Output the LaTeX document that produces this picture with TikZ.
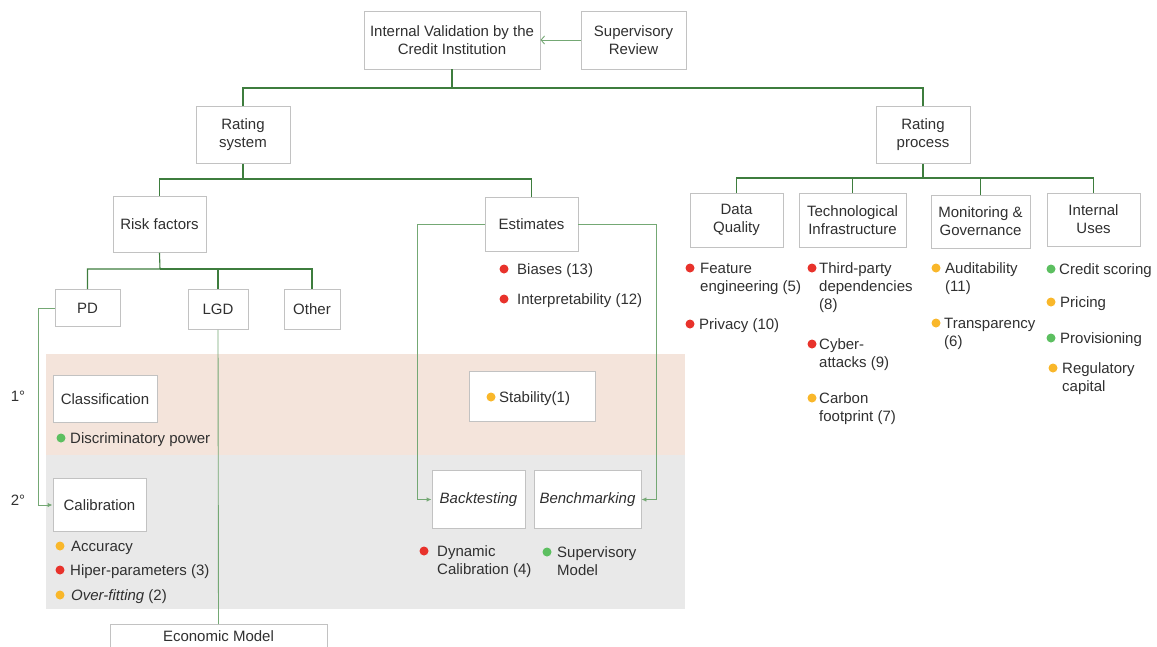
\documentclass[tikz,border=0pt]{standalone}
\usepackage{fontspec}
\setmainfont{Liberation Sans}
\usepackage{xcolor}
\usetikzlibrary{arrows.meta}
\definecolor{txt}{HTML}{303030}
\definecolor{frame}{HTML}{C2C2C2}
\definecolor{treeG}{HTML}{3E7D3E}
\definecolor{flowG}{HTML}{74A874}
\definecolor{bandR}{HTML}{F4E4DB}
\definecolor{bandG}{HTML}{E9E9E9}
\definecolor{dotR}{HTML}{E8322B}
\definecolor{dotO}{HTML}{F9B72A}
\definecolor{dotG}{HTML}{5CBF60}
\newcommand{\fs}{\fontsize{15}{18}\selectfont}
\tikzset{
  box/.style   ={draw=frame, fill=white, line width=0.9pt, align=center, text=txt, font=\fs, inner sep=0pt},
  treeln/.style={treeG, line width=1.1pt},
  flow/.style  ={flowG, line width=0.9pt},
  lnk/.style   ={flow, -{Latex[length=5pt, width=4.5pt]}},
  back/.style  ={flow, -{Straight Barb[length=3.5pt, width=8pt]}},
  bul/.style   ={circle, inner sep=0pt, minimum size=9pt},
  itm/.style   ={anchor=north west, align=left, inner sep=0pt, text=txt, font=\fs},
  lvl/.style   ={text=txt, font=\fs},
}

\begin{document}
\begin{tikzpicture}[x=1pt, y=-1pt]
  \clip (0,0) rectangle (1157,646);
  % validation bands
  \fill[bandR] (46,354) rectangle (685,455);
  \fill[bandG] (46,455) rectangle (685,609);
  \node[lvl] (l1) at (18,396) {1°};
  \node[lvl] (l2) at (18,500) {2°};

  % top level
  \node[box, minimum width=176, minimum height=58] (iv) at (452,40) {Internal Validation by the\\Credit Institution};
  \node[box, minimum width=105, minimum height=58] (sr) at (633.5,40) {Supervisory\\Review};
  \draw[back] (sr.west) -- (iv.east);
  \node[box, minimum width=94, minimum height=57] (rs) at (243,135) {Rating\\system};
  \node[box, minimum width=94, minimum height=57] (rp) at (923,135) {Rating\\process};
  \coordinate (j0) at (452,88);
  \draw[treeln] (iv.south) -- (j0) -| (rs.north);
  \draw[treeln] (j0) -| (rp.north);

  % rating system
  \node[box, minimum width=93, minimum height=56] (rf) at (159.5,224.5) {Risk factors};
  \node[box, minimum width=93, minimum height=54] (est) at (531.5,224.5) {Estimates};
  \coordinate (j1) at (243,179);
  \draw[treeln] (rs.south) -- (j1) -| (rf.north);
  \draw[treeln] (j1) -| (est.north);
  \node[box, minimum width=65, minimum height=37] (pd) at (87.5,308) {PD};
  \node[box, minimum width=60, minimum height=40] (lgd) at (218,309.5) {LGD};
  \node[box, minimum width=56, minimum height=40] (oth) at (312,309.5) {Other};
  \coordinate (j2) at (160,269);
  \draw[treeln] (rf.south) -- (j2) -| (pd.north);
  \draw[treeln] (j2) -| (lgd.north);
  \draw[treeln] (j2) -| (oth.north);
  \node[bul, fill=dotR] (b1) at (504,269) {};
  \node[itm] (t1) at (517,262) {\strut Biases (13)};
  \node[bul, fill=dotR] (b2) at (504,299) {};
  \node[itm] (t2) at (517,292) {\strut Interpretability (12)};

  % rating process
  \node[box, minimum width=93, minimum height=54] (dq) at (736.5,220) {Data\\Quality};
  \node[box, minimum width=107, minimum height=54] (ti) at (852.5,220) {Technological\\Infrastructure};
  \node[box, minimum width=99, minimum height=53] (mg) at (980.5,221.5) {Monitoring \&\\Governance};
  \node[box, minimum width=93, minimum height=53] (iu) at (1093.5,219.5) {Internal\\Uses};
  \coordinate (j3) at (923,178);
  \draw[treeln] (rp.south) -- (j3) -| (dq.north);
  \draw[treeln] (j3) -| (ti.north);
  \draw[treeln] (j3) -| (mg.north);
  \draw[treeln] (j3) -| (iu.north);
  \node[bul, fill=dotR] (b3) at (690,268) {};
  \node[itm] (t3) at (700,261) {\strut Feature\\engineering (5)};
  \node[bul, fill=dotR] (b4) at (690,324) {};
  \node[itm] (t4) at (699,317) {\strut Privacy (10)};
  \node[bul, fill=dotR] (b5) at (812,268) {};
  \node[itm] (t5) at (819,261) {\strut Third-party\\dependencies\\(8)};
  \node[bul, fill=dotR] (b6) at (812,344) {};
  \node[itm] (t6) at (819,337) {\strut Cyber-\\attacks (9)};
  \node[bul, fill=dotO] (b7) at (812,398) {};
  \node[itm] (t7) at (819,391) {\strut Carbon\\footprint (7)};
  \node[bul, fill=dotO] (b8) at (936,268) {};
  \node[itm] (t8) at (945,261) {\strut Auditability\\(11)};
  \node[bul, fill=dotO] (b9) at (936,323) {};
  \node[itm] (t9) at (944,316) {\strut Transparency\\(6)};
  \node[bul, fill=dotG] (b10) at (1051,269) {};
  \node[itm] (t10) at (1059,262) {\strut Credit scoring};
  \node[bul, fill=dotO] (b11) at (1051,302) {};
  \node[itm] (t11) at (1060,295) {\strut Pricing};
  \node[bul, fill=dotG] (b12) at (1051,338) {};
  \node[itm] (t12) at (1060,331) {\strut Provisioning};
  \node[bul, fill=dotO] (b13) at (1053,368) {};
  \node[itm] (t13) at (1062,361) {\strut Regulatory\\capital};

  % 1st level checks
  \node[box, minimum width=104, minimum height=47] (cls) at (105,399) {Classification};
  \node[bul, fill=dotG] (b14) at (61,438) {};
  \node[itm] (t14) at (70,431) {\strut Discriminatory power};
  \node[box, minimum width=126, minimum height=50] (stab) at (532,396) {};
  \node[bul, fill=dotO] (b15) at (491,397) {};
  \node[itm] (t15) at (499,390) {\strut Stability(1)};

  % 2nd level checks
  \node[box, minimum width=93, minimum height=53] (cal) at (99.5,505) {Calibration};
  \node[bul, fill=dotO] (b16) at (60,546) {};
  \node[itm] (t16) at (71,539) {\strut Accuracy};
  \node[bul, fill=dotR] (b17) at (60,570) {};
  \node[itm] (t17) at (70,563) {\strut Hiper-parameters (3)};
  \node[bul, fill=dotO] (b18) at (60,595) {};
  \node[itm] (t18) at (71,588) {\strut\textit{Over-fitting} (2)};
  \node[box, minimum width=93, minimum height=58] (bt) at (478.5,499.5) {\itshape Backtesting};
  \node[box, minimum width=107, minimum height=58] (bm) at (587.5,499.5) {\itshape Benchmarking};
  \node[bul, fill=dotR] (b19) at (424,551) {};
  \node[itm] (t19) at (437,544) {\strut Dynamic\\Calibration (4)};
  \node[bul, fill=dotG] (b20) at (547,552) {};
  \node[itm] (t20) at (557,545) {\strut Supervisory\\Model};
  \node[box, minimum width=217, minimum height=24, anchor=north] (eco) at (218.5,624) {Economic Model};

  % links to the checks
  \coordinate (k1) at (38,0);
  \coordinate (k2) at (417,0);
  \coordinate (k3) at (656,0);
  \draw[lnk] (pd.west) -- (pd.west -| k1) |- (cal.west);
  \draw[lnk] (est.west) -- (est.west -| k2) |- (bt.west);
  \draw[lnk] (est.east) -- (est.east -| k3) |- (bm.east);
  \draw[flow] (lgd.south) -- (eco.north);
\end{tikzpicture}
\end{document}
